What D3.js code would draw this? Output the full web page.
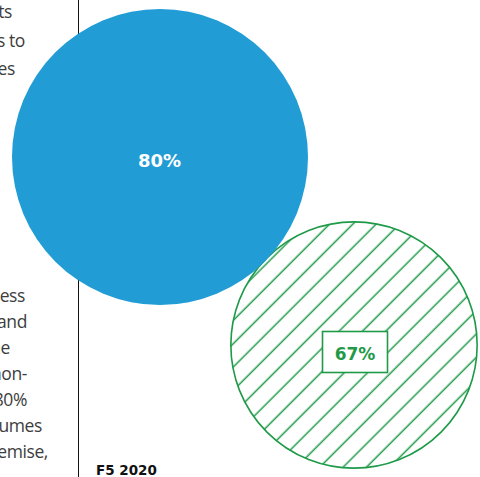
<!DOCTYPE html>
<html>
<head>
<meta charset="utf-8">
<script src="https://cdn.jsdelivr.net/npm/d3@7"></script>
<style>
  html, body { margin: 0; padding: 0; background: #fff; }
  svg { display: block; }
</style>
</head>
<body>
<svg id="chart" width="480" height="477"></svg>
<script>
// Share of respondents per group
const groups = ["A", "B"];
const values = [80, 67];
const labels = ["80%", "67%"];
const colors = ["#219cd4", "#1e9a48"];
const styles = ["solid", "hatch"];

// Body text from the adjacent column (runs off the left edge)
const bodyTop = ["impacts", "seems to", "issues"];
const bodyBottom = ["business", "and", "the", "non-", "80%", "volumes", "premise,"];
const source = "F5 2020";

const svg = d3.select("#chart");
const W = 480, H = 477;

// Column rule
svg.append("line")
  .attr("x1", 78.5).attr("x2", 78.5)
  .attr("y1", 0).attr("y2", H)
  .attr("stroke", "#111").attr("stroke-width", 1);

const bodyFont = "'Open Sans', Lato, sans-serif";
const textStyle = sel => sel
  .attr("font-family", bodyFont)
  .attr("font-size", 17.5)
  .attr("letter-spacing", -0.4)
  .attr("fill", "#3d3d3d")
  .attr("text-anchor", "end");

const topEnds = [12, 25, 15];
svg.selectAll("text.top").data(bodyTop).join("text")
  .attr("class", "top")
  .attr("x", (d, i) => topEnds[i])
  .attr("y", (d, i) => 18 + i * 28.5)
  .text(d => d)
  .call(textStyle);

const botEnds = [25, 27, 10, 27, 27, 42, 48];
svg.selectAll("text.bot").data(bodyBottom).join("text")
  .attr("class", "bot")
  .attr("x", (d, i) => botEnds[i])
  .attr("y", (d, i) => 302 + i * 26)
  .text(d => d)
  .call(textStyle);

// Radius scales linearly with the value
const r = d3.scaleLinear().domain([0, 80]).range([0, 148]);
// Circle centres
const cx = d3.scaleOrdinal().domain(groups).range([160, 354]);
const cy = d3.scaleOrdinal().domain(groups).range([157, 345]);

// Diagonal hatch pattern ("/" lines, x + y constant)
const gap = 16.5;
const defs = svg.append("defs");
const pat = defs.append("pattern")
  .attr("id", "hatch")
  .attr("patternUnits", "userSpaceOnUse")
  .attr("width", gap).attr("height", gap)
  .attr("patternTransform", "rotate(45)");
pat.append("rect").attr("width", gap).attr("height", gap).attr("fill", "#fff");
pat.append("line")
  .attr("x1", 12).attr("y1", -1).attr("x2", 12).attr("y2", gap + 1)
  .attr("stroke", colors[1]).attr("stroke-width", 1.5);

const data = groups.map((g, i) => ({ g, v: values[i], label: labels[i], color: colors[i], style: styles[i] }));

// Hatched circle first so the solid one sits on top
const order = [1, 0];
svg.selectAll("circle.bubble").data(order.map(i => data[i])).join("circle")
  .attr("class", "bubble")
  .attr("cx", d => cx(d.g))
  .attr("cy", d => cy(d.g))
  .attr("r", d => d.style === "hatch" ? r(d.v) - 0.8 : r(d.v))
  .attr("fill", d => d.style === "hatch" ? "url(#hatch)" : d.color)
  .attr("stroke", d => d.style === "hatch" ? d.color : "none")
  .attr("stroke-width", 1.6);

// Value labels
const labelFont = "'DejaVu Sans', Lato, sans-serif";
data.forEach(d => {
  const x = cx(d.g);
  if (d.style === "hatch") {
    const y = cy(d.g) + 7;
    svg.append("rect")
      .attr("x", x - 31.5).attr("y", y - 20.5)
      .attr("width", 65).attr("height", 41)
      .attr("fill", "#fff")
      .attr("stroke", d.color).attr("stroke-width", 1.6);
    svg.append("text")
      .attr("x", x + 1).attr("y", y + 7.5)
      .attr("text-anchor", "middle")
      .attr("font-family", labelFont)
      .attr("font-weight", 700)
      .attr("font-size", 17)
      .attr("fill", d.color)
      .text(d.label);
  } else {
    svg.append("text")
      .attr("x", x - 0.5).attr("y", cy(d.g) + 10)
      .attr("text-anchor", "middle")
      .attr("font-family", labelFont)
      .attr("font-weight", 700)
      .attr("font-size", 18)
      .attr("fill", "#fff")
      .text(d.label);
  }
});

// Source
svg.append("text")
  .attr("x", 96).attr("y", 475)
  .attr("font-family", labelFont)
  .attr("font-weight", 700)
  .attr("font-size", 13.5)
  .attr("fill", "#111")
  .text(source);
</script>
</body>
</html>
